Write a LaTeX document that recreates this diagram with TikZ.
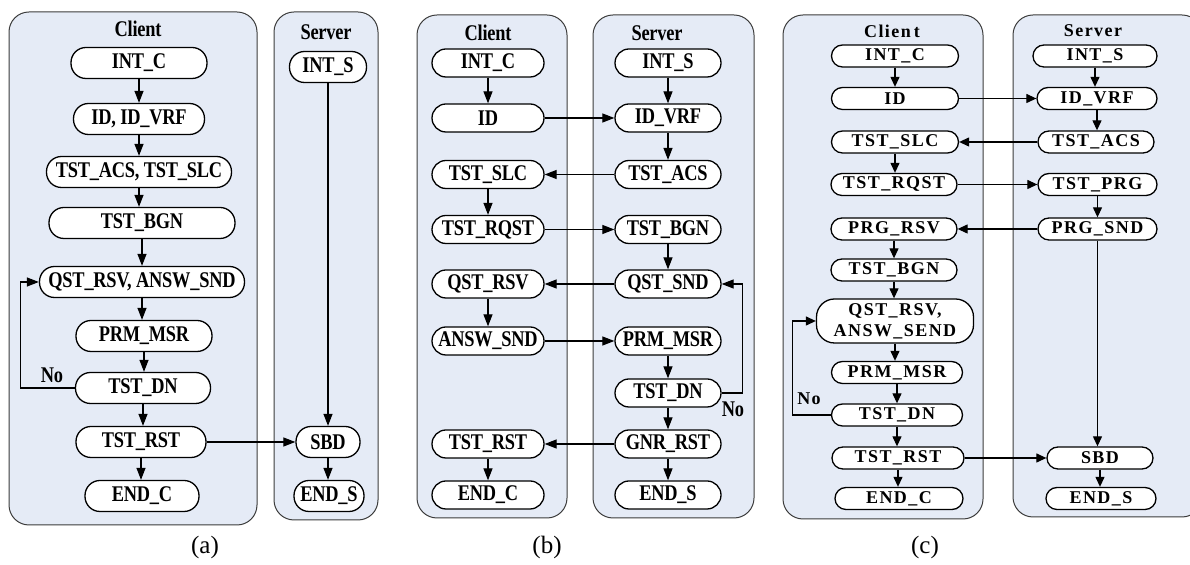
\documentclass[tikz,border=0pt]{standalone}
\usepackage{fontspec}
\setmainfont{Liberation Serif}
\newfontfamily\fcond{Liberation Serif}[FakeStretch=0.82,LetterSpace=-1]
\newfontfamily\fwide{Liberation Serif}[LetterSpace=8]
\usetikzlibrary{arrows.meta}
\definecolor{panelfill}{RGB}{229,235,246}
\definecolor{panelline}{RGB}{60,60,60}
\tikzset{
  panel/.style={draw=panelline,line width=0.5pt,fill=panelfill,rounded corners=10pt},
  na/.style={draw,line width=0.65pt,fill=white,rounded corners=7.5pt,minimum height=15.5pt,inner sep=0pt,font=\fcond\bfseries\fontsize{11.2}{12}\selectfont},
  nb/.style={draw,line width=0.65pt,fill=white,rounded corners=7pt,minimum height=14pt,inner sep=0pt,font=\fcond\bfseries\fontsize{11.2}{12}\selectfont},
  nc/.style={draw,line width=0.65pt,fill=white,rounded corners=5.5pt,minimum height=11pt,inner sep=0pt,font=\fwide\bfseries\fontsize{9}{10.5}\selectfont},
  ttl/.style={inner sep=0pt,font=\fcond\bfseries\fontsize{11.2}{12}\selectfont},
  ttlc/.style={inner sep=0pt,font=\fwide\bfseries\fontsize{9}{10.5}\selectfont},
  captext/.style={inner sep=0pt,font=\fontsize{12.5}{14}\selectfont},
  arr/.style={line width=0.6pt,-{Triangle[length=6pt,width=4.5pt]}},
  arrc/.style={line width=0.6pt,-{Triangle[length=5pt,width=4.5pt]}},
}
\begin{document}
\begin{tikzpicture}[x=0.5pt,y=-0.5pt]
\useasboundingbox (0,0) rectangle (1190,565);
% ---------- panels ----------
\draw[panel] (9,12) rectangle (257,525);
\draw[panel] (274,12) rectangle (378,520);
\draw[panel] (417,15) rectangle (567,518);
\draw[panel] (593,15) rectangle (754,518);
\draw[panel] (783,15) rectangle (983,519);
\draw[panel] (1013,15) rectangle (1202,517);
% ---------- (a) ----------
\node[ttl] (aCt) at (138,29) {Client};
\node[ttl] (aSt) at (326,32) {Server};
\node[na,minimum width=68pt]   (aIntC) at (139,63)  {INT\_C};
\node[na,minimum width=65.5pt] (aId)   at (139,119) {ID, ID\_VRF};
\node[na,minimum width=92.5pt] (aAcs)  at (139,172) {TST\_ACS, TST\_SLC};
\node[na,minimum width=93pt]   (aBgn)  at (142,223) {TST\_BGN};
\node[na,minimum width=102.5pt](aQst)  at (142,282) {QST\_RSV, ANSW\_SND};
\node[na,minimum width=68pt]   (aPrm)  at (144,336) {PRM\_MSR};
\node[na,minimum width=67.5pt] (aDn)   at (143,388) {TST\_DN};
\node[na,minimum width=65pt]   (aRst)  at (141,442) {TST\_RST};
\node[na,minimum width=57pt]   (aEndC) at (142,496) {END\_C};
\node[na,minimum width=38.5pt] (aIntS) at (328,67)  {INT\_S};
\node[na,minimum width=32pt]   (aSbd)  at (328,442) {SBD};
\node[na,minimum width=35pt]   (aEndS) at (329,496) {END\_S};
\draw[arr] (aIntC) -- (aIntC|-aId.north);
\draw[arr] (aId) -- (aId|-aAcs.north);
\draw[arr] (aAcs) -- (aAcs|-aBgn.north);
\draw[arr] (aBgn) -- (aBgn|-aQst.north);
\draw[arr] (aQst) -- (aQst|-aPrm.north);
\draw[arr] (aPrm) -- (aPrm|-aDn.north);
\draw[arr] (aDn) -- (aDn|-aRst.north);
\draw[arr] (aRst) -- (aRst|-aEndC.north);
\draw[arr] (aIntS) -- (aIntS|-aSbd.north);
\draw[arr] (aSbd) -- (aSbd|-aEndS.north);
\draw[arr] (aRst) -- (aSbd);
\draw[arr] (aDn.west) -- ++(-54,0) |- (aQst.west);
\node[ttl] (aNo) at (52,375) {No};
\node[captext] (aCap) at (205,547) {(a)};
% ---------- (b) ----------
\node[ttl] (bCt) at (488,33) {Client};
\node[ttl] (bSt) at (657,33) {Server};
\node[nb,minimum width=56pt] (bIntC) at (488,63)    {INT\_C};
\node[nb,minimum width=56pt] (bId)   at (488,118)   {ID};
\node[nb,minimum width=56pt] (bSlc)  at (488,174.5) {TST\_SLC};
\node[nb,minimum width=56pt] (bRqst) at (488,229.5) {TST\_RQST};
\node[nb,minimum width=56pt] (bQrsv) at (488,284)   {QST\_RSV};
\node[nb,minimum width=56pt] (bAnsw) at (488,341)   {ANSW\_SND};
\node[nb,minimum width=56pt] (bRst)  at (488,444)   {TST\_RST};
\node[nb,minimum width=56pt] (bEndC) at (488,495)   {END\_C};
\node[nb,minimum width=53pt] (bIntS) at (668,63)    {INT\_S};
\node[nb,minimum width=53pt] (bVrf)  at (668,118)   {ID\_VRF};
\node[nb,minimum width=53pt] (bAcs)  at (668,174.5) {TST\_ACS};
\node[nb,minimum width=53pt] (bBgn)  at (668,229.5) {TST\_BGN};
\node[nb,minimum width=53pt] (bQsnd) at (668,284)   {QST\_SND};
\node[nb,minimum width=53pt] (bPrm)  at (668,341)   {PRM\_MSR};
\node[nb,minimum width=53pt] (bDn)   at (668,393)   {TST\_DN};
\node[nb,minimum width=53pt] (bGnr)  at (668,444)   {GNR\_RST};
\node[nb,minimum width=53pt] (bEndS) at (668,495)   {END\_S};
\draw[arr] (bIntC) -- (bId);
\draw[arr] (bSlc) -- (bRqst);
\draw[arr] (bQrsv) -- (bAnsw);
\draw[arr] (bRst) -- (bEndC);
\draw[arr] (bIntS) -- (bVrf);
\draw[arr] (bVrf) -- (bAcs);
\draw[arr] (bBgn) -- (bQsnd);
\draw[arr] (bPrm) -- (bDn);
\draw[arr] (bDn) -- (bGnr);
\draw[arr] (bGnr) -- (bEndS);
\draw[arr] (bId) -- (bVrf);
\draw[arr] (bAcs) -- (bSlc);
\draw[arr] (bRqst) -- (bBgn);
\draw[arr] (bQsnd) -- (bQrsv);
\draw[arr] (bAnsw) -- (bPrm);
\draw[arr] (bGnr) -- (bRst);
\draw[arr] (bDn.east) -- ++(21,0) |- (bQsnd.east);
\node[ttl] (bNo) at (733,409) {No};
\node[captext] (bCap) at (547,547) {(b)};
% ---------- (c) ----------
\node[ttlc] (cCt) at (892,31) {Clien\,t};
\node[ttlc] (cSt) at (1093,31) {Server};
\node[nc,minimum width=63.5pt] (cIntC) at (895,56)    {INT\_C};
\node[nc,minimum width=63.5pt] (cId)   at (895,98.5)  {ID};
\node[nc,minimum width=63.5pt] (cSlc)  at (895,142)   {TST\_SLC};
\node[nc,minimum width=63pt]   (cRqst) at (894,184.5) {TST\_RQST};
\node[nc,minimum width=63pt]   (cPrsv) at (894,229)   {PRG\_RSV};
\node[nc,minimum width=63pt]   (cBgn)  at (894,270)   {TST\_BGN};
\node[nc,minimum width=78.5pt,minimum height=22pt,rounded corners=9pt,align=center] (cQst) at (895,321) {QST\_RSV,\\ANSW\_SEND};
\node[nc,minimum width=65.5pt] (cPrm)  at (897,372.5) {PRM\_MSR};
\node[nc,minimum width=65.5pt] (cDn)   at (897,415)   {TST\_DN};
\node[nc,minimum width=66pt]   (cRst)  at (898,458)   {TST\_RST};
\node[nc,minimum width=64pt]   (cEndC) at (899,498.5) {END\_C};
\node[nc,minimum width=62pt]   (cIntS) at (1095,56)    {INT\_S};
\node[nc,minimum width=60pt]   (cVrf)  at (1097,98.5)  {ID\_VRF};
\node[nc,minimum width=58pt]   (cAcs)  at (1096,142)   {TST\_ACS};
\node[nc,minimum width=59.5pt] (cPrg)  at (1097.5,184.5) {TST\_PRG};
\node[nc,minimum width=59.5pt] (cPsnd) at (1097.5,229) {PRG\_SND};
\node[nc,minimum width=53pt]   (cSbd)  at (1100,458)   {SBD};
\node[nc,minimum width=55pt]   (cEndS) at (1101,498.5) {END\_S};
\draw[arrc] (cIntC) -- (cIntC|-cId.north);
\draw[arrc] (cSlc) -- (cSlc|-cRqst.north);
\draw[arrc] (cPrsv) -- (cPrsv|-cBgn.north);
\draw[arrc] (cBgn) -- (cBgn|-cQst.north);
\draw[arrc] (cQst) -- (cQst|-cPrm.north);
\draw[arrc] (cPrm) -- (cPrm|-cDn.north);
\draw[arrc] (cDn) -- (cDn|-cRst.north);
\draw[arrc] (cRst) -- (cRst|-cEndC.north);
\draw[arrc] (cIntS) -- (cIntS|-cVrf.north);
\draw[arrc] (cVrf) -- (cVrf|-cAcs.north);
\draw[arrc] (cPrg) -- (cPrg|-cPsnd.north);
\draw[arrc] (cPsnd) -- (cPsnd|-cSbd.north);
\draw[arrc] (cSbd) -- (cSbd|-cEndS.north);
\draw[arrc] (cId) -- (cId-|cVrf.west);
\draw[arrc] (cAcs) -- (cAcs-|cSlc.east);
\draw[arrc] (cRqst) -- (cRqst-|cPrg.west);
\draw[arrc] (cPsnd) -- (cPsnd-|cPrsv.east);
\draw[arrc] (cRst) -- (cRst-|cSbd.west);
\draw[arrc] (cDn.west) -- ++(-38,0) |- (cQst.west);
\node[ttlc] (cNo) at (809,399) {No};
\node[captext] (cCap) at (925,547) {(c)};
\end{tikzpicture}
\end{document}
